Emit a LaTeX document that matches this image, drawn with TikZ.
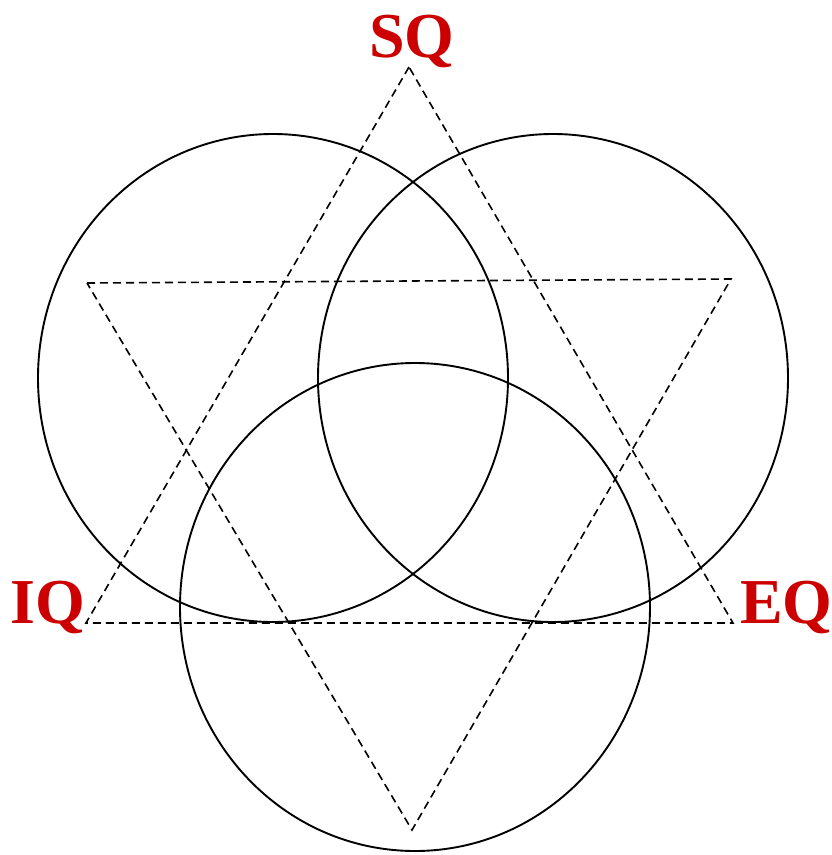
\documentclass[tikz,border=0pt]{standalone}
\usepackage{fontspec}
\setmainfont{Liberation Serif}
\usetikzlibrary{calc}
\definecolor{qred}{RGB}{204,0,0}
\tikzset{
  ring/.style={draw, line width=1.9pt},
  tri/.style={draw, dash pattern=on 8pt off 5pt, line width=1.6pt},
  lbl/.style={text=qred, font=\bfseries\fontsize{64}{70}\selectfont, inner sep=0pt},
}

\begin{document}
\begin{tikzpicture}[x=1pt, y=-1pt]
\useasboundingbox (0,0) rectangle (832,855);

% triangle corners
\coordinate (sq) at (409,67);
\coordinate (iq) at (86,623);
\coordinate (eq) at (733,623);
\coordinate (tl) at (87,283);
\coordinate (tr) at (731,279);
\coordinate (bt) at (412,830);

% circles
\draw[ring] (273,378) ellipse [x radius=235, y radius=244];
\draw[ring] (553,378) ellipse [x radius=235, y radius=244];
\draw[ring] (415,607) ellipse [x radius=235, y radius=244];

% triangles
\draw[tri] (sq) -- (iq) -- (eq) -- cycle;
\draw[tri] (tl) -- (tr) -- (bt) -- cycle;

% labels
\node[lbl, anchor=base] (sqlbl) at (412,57) {SQ};
\node[lbl, anchor=base east] (iqlbl) at (85,623) {IQ};
\node[lbl, anchor=base west] (eqlbl) at (740,623) {EQ};

\end{tikzpicture}
\end{document}
